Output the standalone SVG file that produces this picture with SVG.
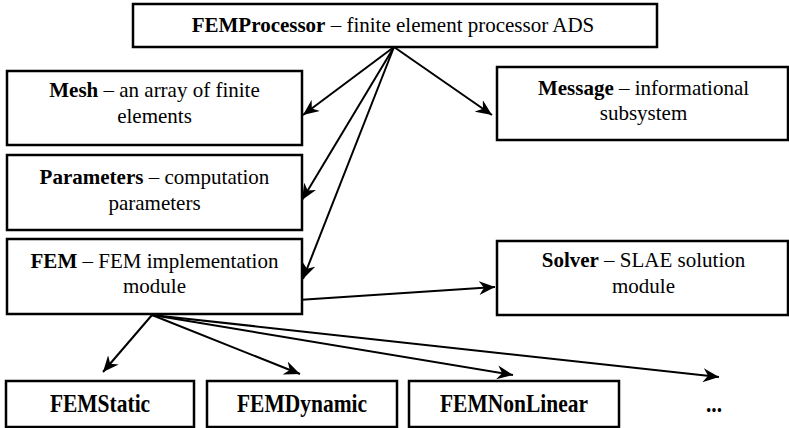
<svg xmlns="http://www.w3.org/2000/svg" width="789" height="428" viewBox="0 0 789 428">
  <style>
    .box { fill: #ffffff; stroke: #000000; stroke-width: 2.5; }
    text { font-family: "Liberation Serif", "Times New Roman", "DejaVu Serif", serif; fill: #000000; text-anchor: middle; }
    .lbl { font-size: 21px; }
    .b { font-weight: bold; }
    .sub { font-size: 21.5px; font-weight: bold; }
    .link { fill: none; stroke: #000000; stroke-width: 2; marker-end: url(#head); }
  </style>
  <defs>
    <marker id="head" markerUnits="userSpaceOnUse" markerWidth="18" markerHeight="14" refX="16" refY="7" orient="auto">
      <path d="M0,0 L16,7 L0,14 L5,7 z" fill="#000000"/>
    </marker>
  </defs>

  <rect width="789" height="428" fill="#ffffff"/>

  <!-- connectors -->
  <g id="connectors">
    <line class="link" x1="394" y1="47" x2="303" y2="115"/>
    <line class="link" x1="394" y1="47" x2="492" y2="115"/>
    <line class="link" x1="394" y1="47" x2="302" y2="200"/>
    <line class="link" x1="394" y1="47" x2="303" y2="279"/>
    <line class="link" x1="298" y1="300" x2="495" y2="287"/>
    <line class="link" x1="152" y1="315" x2="103" y2="372"/>
    <line class="link" x1="152" y1="315" x2="300" y2="374"/>
    <line class="link" x1="152" y1="315" x2="513" y2="375"/>
    <line class="link" x1="152" y1="315" x2="719" y2="377"/>
  </g>

  <g id="fem-processor">
    <rect class="box" x="133" y="4" width="524" height="43"/>
    <text class="lbl" x="393" y="32" font-family="Liberation Serif, serif"><tspan class="b">FEMProcessor</tspan> – finite element processor ADS</text>
  </g>

  <g id="mesh">
    <rect class="box" x="7" y="71" width="295" height="74"/>
    <text class="lbl" x="154.5" y="97" font-family="Liberation Serif, serif"><tspan class="b">Mesh</tspan> – an array of finite</text>
    <text class="lbl" x="154.5" y="123" font-family="Liberation Serif, serif">elements</text>
  </g>

  <g id="message">
    <rect class="box" x="497" y="67" width="291" height="73"/>
    <text class="lbl" x="643.5" y="95" font-family="Liberation Serif, serif"><tspan class="b">Message</tspan> – informational</text>
    <text class="lbl" x="643.5" y="120" font-family="Liberation Serif, serif">subsystem</text>
  </g>

  <g id="parameters">
    <rect class="box" x="7" y="155" width="295" height="75"/>
    <text class="lbl" x="154.5" y="184" font-family="Liberation Serif, serif"><tspan class="b">Parameters</tspan> – computation</text>
    <text class="lbl" x="154.5" y="210" font-family="Liberation Serif, serif">parameters</text>
  </g>

  <g id="fem">
    <rect class="box" x="7" y="239" width="295" height="75"/>
    <text class="lbl" x="154.5" y="268" font-family="Liberation Serif, serif"><tspan class="b">FEM</tspan> – FEM implementation</text>
    <text class="lbl" x="154.5" y="293" font-family="Liberation Serif, serif">module</text>
  </g>

  <g id="solver">
    <rect class="box" x="497" y="241" width="291" height="74"/>
    <text class="lbl" x="643.5" y="267" font-family="Liberation Serif, serif"><tspan class="b">Solver</tspan> – SLAE solution</text>
    <text class="lbl" x="643.5" y="293" font-family="Liberation Serif, serif">module</text>
  </g>

  <g id="fem-static">
    <rect class="box" x="6" y="381" width="188" height="46"/>
    <text class="sub" transform="translate(100,412) scale(1,1.2)" font-family="Liberation Serif, serif">FEMStatic</text>
  </g>

  <g id="fem-dynamic">
    <rect class="box" x="207" y="381" width="190" height="46"/>
    <text class="sub" transform="translate(302,412) scale(1,1.2)" font-family="Liberation Serif, serif">FEMDynamic</text>
  </g>

  <g id="fem-nonlinear">
    <rect class="box" x="409" y="381" width="210" height="46"/>
    <text class="sub" transform="translate(514,412) scale(1,1.2)" font-family="Liberation Serif, serif">FEMNonLinear</text>
  </g>

  <g id="more">
    <text class="sub" transform="translate(714,412) scale(1,1.2)" font-family="Liberation Serif, serif">...</text>
  </g>
</svg>
